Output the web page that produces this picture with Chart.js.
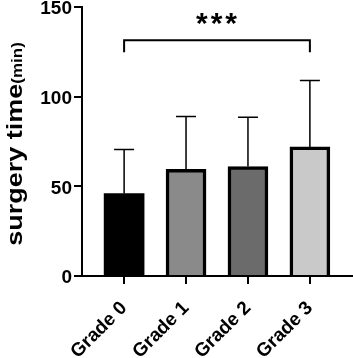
<!DOCTYPE html>
<html>
<head>
<meta charset="utf-8">
<script src="https://cdn.jsdelivr.net/npm/chart.js@4"></script>
<style>
  html, body { margin: 0; padding: 0; background: #fff; }
  #wrap { width: 354px; height: 358px; position: relative; }
</style>
</head>
<body>
<div id="wrap"><canvas id="chart"></canvas></div>
<script>
// data
const grades = ['Grade 0', 'Grade 1', 'Grade 2', 'Grade 3'];
const meanTime = [46, 59.5, 61, 72];
const sdTime = [24.5, 29.5, 27.5, 37];
const barColors = ['#000000', '#8a8a8a', '#6b6b6b', '#c9c9c9'];
const yTicks = [0, 50, 100, 150];
const sigPair = [0, 3];
const sigLabel = '***';
const sigLevel = 131.5;

const FONT = "'Liberation Sans', Arial, sans-serif";

// up-only error bars with caps
const errorBars = {
  id: 'errorBars',
  afterDatasetsDraw(chart) {
    const ctx = chart.ctx;
    const x = chart.scales.x, y = chart.scales.y;
    ctx.save();
    ctx.strokeStyle = '#000';
    ctx.lineWidth = 1.5;
    meanTime.forEach((m, i) => {
      const px = x.getPixelForValue(i);
      const top = y.getPixelForValue(m + sdTime[i]);
      const base = y.getPixelForValue(m);
      ctx.beginPath();
      ctx.moveTo(px, base);
      ctx.lineTo(px, top);
      ctx.moveTo(px - 10, top);
      ctx.lineTo(px + 10, top);
      ctx.stroke();
    });
    ctx.restore();
  }
};

// significance bracket
const sigBracket = {
  id: 'sigBracket',
  afterDraw(chart) {
    const ctx = chart.ctx;
    const x = chart.scales.x, y = chart.scales.y;
    const x1 = x.getPixelForValue(sigPair[0]);
    const x2 = x.getPixelForValue(sigPair[1]);
    const yl = y.getPixelForValue(sigLevel);
    const drop = y.getPixelForValue(sigLevel - 6.8);
    ctx.save();
    ctx.strokeStyle = '#000';
    ctx.lineWidth = 2;
    ctx.beginPath();
    ctx.moveTo(x1, drop);
    ctx.lineTo(x1, yl);
    ctx.lineTo(x2, yl);
    ctx.lineTo(x2, drop);
    ctx.stroke();
    ctx.fillStyle = '#000';
    ctx.font = 'bold 30px ' + FONT;
    ctx.textAlign = 'center';
    ctx.textBaseline = 'middle';
    if (ctx.letterSpacing !== undefined) ctx.letterSpacing = '3px';
    ctx.fillText(sigLabel, (x1 + x2) / 2 + 1, yl - 15);
    ctx.restore();
  }
};

// y title with smaller "(min)"
const yTitle = {
  id: 'yTitle',
  afterDraw(chart) {
    const ctx = chart.ctx;
    const big = 'surgery time';
    const small = '(min)';
    ctx.save();
    ctx.fillStyle = '#000';
    ctx.font = 'bold 27px ' + FONT;
    const w1 = ctx.measureText(big).width;
    ctx.font = 'bold 17px ' + FONT;
    const w2 = ctx.measureText(small).width;
    const total = w1 + w2;
    ctx.translate(22, 144);
    ctx.rotate(-Math.PI / 2);
    ctx.scale(1, 0.85);
    ctx.textBaseline = 'alphabetic';
    ctx.textAlign = 'left';
    ctx.font = 'bold 27px ' + FONT;
    ctx.fillText(big, -total / 2, 0);
    ctx.font = 'bold 17px ' + FONT;
    ctx.fillText(small, -total / 2 + w1, 0);
    ctx.restore();
  }
};

new Chart(document.getElementById('chart'), {
  type: 'bar',
  data: {
    datasets: [{
      data: meanTime.map((v, i) => ({ x: i, y: v })),
      backgroundColor: barColors,
      borderColor: '#000',
      borderWidth: [0, 3.5, 3.5, 3.5],
      borderSkipped: 'bottom',
      barThickness: 40
    }]
  },
  options: {
    responsive: true,
    maintainAspectRatio: false,
    animation: false,
    layout: { padding: { left: 0, right: 2, top: 7, bottom: 0 } },
    plugins: { legend: { display: false }, tooltip: { enabled: false } },
    scales: {
      x: {
        type: 'linear',
        offset: false,
        min: -0.68,
        max: 3.68,
        afterBuildTicks: s => { s.ticks = grades.map((g, i) => ({ value: i })); },
        afterFit: s => { s.height = 82; s.paddingLeft = 0; s.paddingRight = 0; },
        ticks: {
          callback: v => grades[v],
          color: '#000',
          font: { family: FONT, size: 19, weight: 'bold' },
          minRotation: 45,
          maxRotation: 45,
          autoSkip: false,
          padding: 13
        },
        grid: { display: true, offset: false, drawOnChartArea: false, drawTicks: true, tickLength: 8, color: '#000', lineWidth: 2 },
        border: { display: true, color: '#000', width: 2 }
      },
      y: {
        min: 0,
        max: 150,
        afterBuildTicks: s => { s.ticks = yTicks.map(v => ({ value: v })); },
        afterFit: s => { s.width = 82; s.paddingTop = 0; s.paddingBottom = 0; },
        ticks: {
          color: '#000',
          font: { family: FONT, size: 19, weight: 'bold' },
          padding: 2,
          labelOffset: 2
        },
        grid: { display: true, drawOnChartArea: false, drawTicks: true, tickLength: 8, color: '#000', lineWidth: 2 },
        border: { display: true, color: '#000', width: 2 }
      }
    }
  },
  plugins: [errorBars, sigBracket, yTitle]
});
</script>
</body>
</html>
